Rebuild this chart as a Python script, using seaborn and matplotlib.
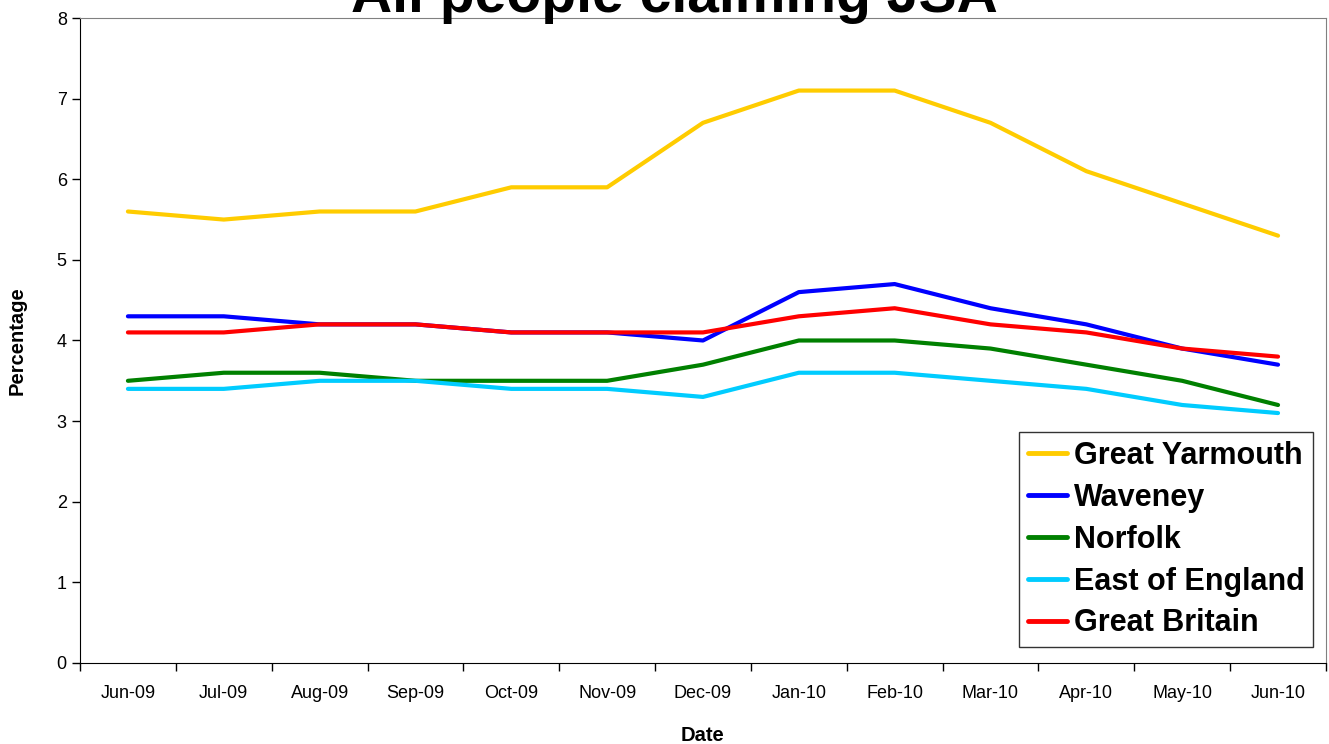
import pandas as pd
import matplotlib
matplotlib.use('Agg')
import matplotlib.pyplot as plt
import seaborn as sns

months = ['Jun-09', 'Jul-09', 'Aug-09', 'Sep-09', 'Oct-09', 'Nov-09', 'Dec-09',
          'Jan-10', 'Feb-10', 'Mar-10', 'Apr-10', 'May-10', 'Jun-10']
great_yarmouth = [5.6, 5.5, 5.6, 5.6, 5.9, 5.9, 6.7, 7.1, 7.1, 6.7, 6.1, 5.7, 5.3]
waveney = [4.3, 4.3, 4.2, 4.2, 4.1, 4.1, 4.0, 4.6, 4.7, 4.4, 4.2, 3.9, 3.7]
norfolk = [3.5, 3.6, 3.6, 3.5, 3.5, 3.5, 3.7, 4.0, 4.0, 3.9, 3.7, 3.5, 3.2]
east_of_england = [3.4, 3.4, 3.5, 3.5, 3.4, 3.4, 3.3, 3.6, 3.6, 3.5, 3.4, 3.2, 3.1]
great_britain = [4.1, 4.1, 4.2, 4.2, 4.1, 4.1, 4.1, 4.3, 4.4, 4.2, 4.1, 3.9, 3.8]

series = {
    'Great Yarmouth': great_yarmouth,
    'Waveney': waveney,
    'Norfolk': norfolk,
    'East of England': east_of_england,
    'Great Britain': great_britain,
}
colors = ['#FFCC00', '#0000FF', '#008000', '#00CCFF', '#FF0000']

rows = []
for name, vals in series.items():
    for i, v in enumerate(vals):
        rows.append({'idx': i, 'Date': months[i], 'Area': name, 'Percentage': v})
data = pd.DataFrame(rows)

sns.set_style('ticks')
plt.rcParams['font.family'] = ['Liberation Sans', 'DejaVu Sans']
plt.rcParams['text.color'] = 'black'
plt.rcParams['axes.labelcolor'] = 'black'
plt.rcParams['xtick.color'] = 'black'
plt.rcParams['ytick.color'] = 'black'

fig = plt.figure(figsize=(13.29, 7.44), dpi=100)
ax = fig.add_axes([0.0602, 0.1089, 0.9375, 0.8669])

sns.lineplot(data=data, x='idx', y='Percentage', hue='Area',
             palette=colors, linewidth=3, ax=ax)

ax.set_xlim(-0.5, len(months) - 0.5)
ax.set_ylim(0, 8)
ax.set_yticks(range(0, 9))
ax.set_xticks(range(len(months)))
ax.set_xticklabels(months)
ax.set_xticks([i - 0.5 for i in range(len(months) + 1)], minor=True)
ax.tick_params(axis='x', which='major', length=0, labelsize=13, pad=16)
ax.tick_params(axis='x', which='minor', length=6, direction='out', width=1)
ax.tick_params(axis='y', labelsize=13, length=6, direction='out', width=1)

ax.set_xlabel('Date', fontsize=14.5, fontweight='bold', labelpad=17)
ax.set_ylabel('Percentage', fontsize=14.5, fontweight='bold', labelpad=22)

for s in ['top', 'right']:
    ax.spines[s].set_color('#808080')
for s in ['left', 'bottom']:
    ax.spines[s].set_color('black')

fig.text(0.5075, 0.984, 'All people claiming JSA', ha='center', va='baseline',
         fontsize=41, fontweight='bold')

leg = ax.legend(loc='lower right', bbox_to_anchor=(0.9896, 0.0248),
                prop={'weight': 'bold', 'size': 22}, frameon=True,
                fancybox=False, edgecolor='black', handlelength=1.3,
                handletextpad=0.2, borderpad=0.28, labelspacing=0.39,
                borderaxespad=0)
leg.get_frame().set_linewidth(1)
for line in leg.get_lines():
    line.set_linewidth(3.5)

plt.savefig('out.png', dpi=100)
